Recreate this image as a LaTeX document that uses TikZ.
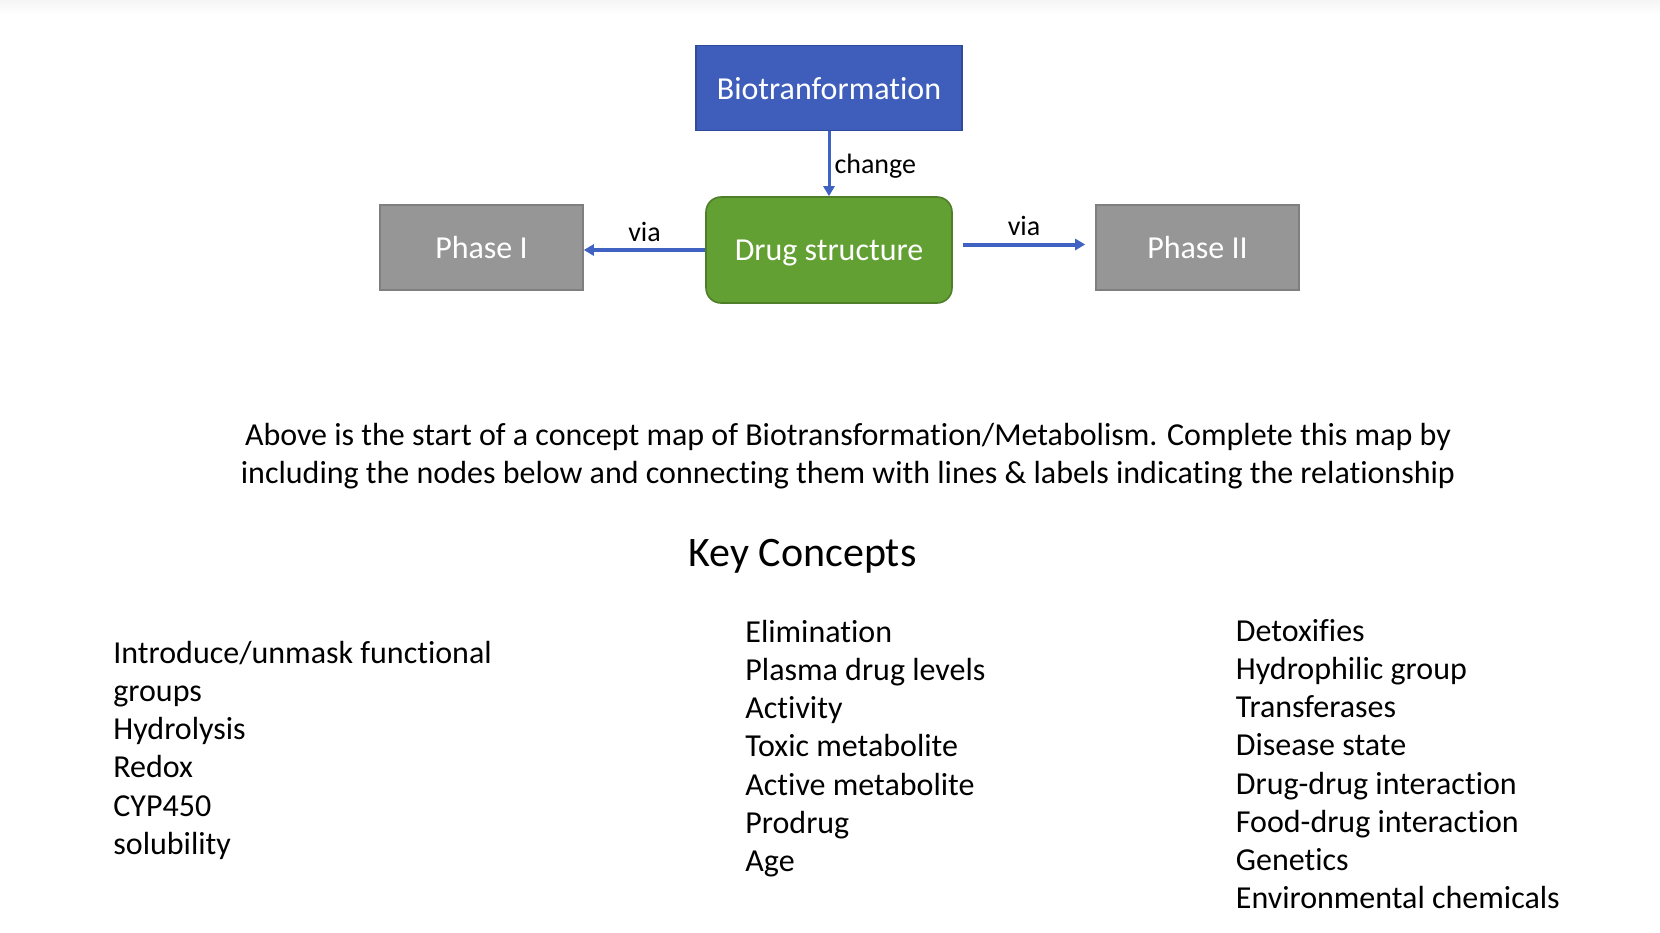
\documentclass[tikz,border=0pt]{standalone}
\usepackage{fontspec}
\setmainfont[Ligatures=NoCommon]{Carlito}
\usetikzlibrary{arrows.meta}
\definecolor{bioblue}{HTML}{3F5EBB}
\definecolor{bioedge}{HTML}{2F4B9C}
\definecolor{druggreen}{HTML}{63A033}
\definecolor{drugedge}{HTML}{4E7F28}
\definecolor{phasegray}{HTML}{969696}
\definecolor{phaseedge}{HTML}{7F7F7F}
\definecolor{linkblue}{HTML}{4062C2}
\tikzset{
  concept/.style={draw, line width=0.8pt, text=white, font=\fontsize{16}{19}\selectfont,
    minimum height=42.5pt, inner sep=0pt},
  link/.style={draw=linkblue, line width=2pt, -{Triangle[length=5pt,width=5.5pt]}},
  linklabel/.style={font=\fontsize{14}{17}\selectfont, inner sep=2pt},
  term/.style={anchor=base west, font=\fontsize{16}{19}\selectfont, inner sep=0pt}
}
\begin{document}
\begin{tikzpicture}[x=0.5pt, y=-0.5pt]
    \useasboundingbox (0,0) rectangle (1660,932);
    \shade[top color=black!4, bottom color=white] (0,0) rectangle (1660,14);
    % the start of the map
    \node[concept, fill=bioblue, draw=bioedge, minimum width=133pt, text depth=-1pt] (bio) at (829,88) {Biotranformation};
    \node[concept, fill=druggreen, draw=drugedge, rounded corners=7.5pt,
          minimum width=123pt, minimum height=53pt, text depth=-1.5pt] (drug) at (829,250) {Drug structure};
    \node[concept, fill=phasegray, draw=phaseedge, minimum width=101.5pt, text depth=-3pt] (pone) at (481.5,247.5) {Phase I};
    \node[concept, fill=phasegray, draw=phaseedge, minimum width=101.5pt, text depth=-3pt] (ptwo) at (1197.5,247.5) {Phase II};
    \draw[link, line width=1.5pt] (bio) to node[linklabel, right, yshift=-1pt] {change} (drug);
    \draw[link] (drug.west) to node[linklabel, above, yshift=1pt] {via} (pone.east |- drug.west);
    \draw[link, shorten <=5pt, shorten >=5pt] ([yshift=2.75pt]drug.east)
        to node[linklabel, above, yshift=1.5pt] {via} ([yshift=1.5pt]ptwo.west);
    % instructions
    \node[anchor=base, font=\fontsize{16}{19}\selectfont, inner sep=0pt] (ask) at (848,445)
        {Above is the start of a concept map of Biotransformation/Metabolism. Complete this map by};
    \node[anchor=base, font=\fontsize{16}{19}\selectfont, inner sep=0pt] (asktwo) at (848,483)
        {including the nodes below and connecting them with lines \& labels indicating the relationship};
    \node[anchor=base, font=\fontsize{21}{25}\selectfont, inner sep=0pt] (key) at (802.5,566) {Key Concepts};
    % first column
    \node[term] (intro) at (113,663) {Introduce/unmask functional};
    \node[term] (groups) at (113,701) {groups};
    \node[term] (hydro) at (113,739) {Hydrolysis};
    \node[term] (redox) at (113,777.5) {Redox};
    \node[term] (cyp) at (113,816) {CYP450};
    \node[term] (sol) at (113,854) {solubility};
    % second column
    \node[term] (elim) at (745,642) {Elimination};
    \node[term] (plasma) at (745,680) {Plasma drug levels};
    \node[term] (act) at (745,718.5) {Activity};
    \node[term] (toxic) at (745,756.5) {Toxic metabolite};
    \node[term] (active) at (745,795) {Active metabolite};
    \node[term] (pro) at (745,833) {Prodrug};
    \node[term] (age) at (745,871) {Age};
    % third column
    \node[term] (detox) at (1235.5,641) {Detoxifies};
    \node[term] (hydrophil) at (1235.5,679) {Hydrophilic group};
    \node[term] (trans) at (1235.5,717.5) {Transferases};
    \node[term] (disease) at (1235.5,755.5) {Disease state};
    \node[term] (ddi) at (1235.5,794) {Drug-drug interaction};
    \node[term] (fdi) at (1235.5,832) {Food-drug interaction};
    \node[term] (gene) at (1235.5,870) {Genetics};
    \node[term] (env) at (1235.5,908) {Environmental chemicals};
\end{tikzpicture}
\end{document}
